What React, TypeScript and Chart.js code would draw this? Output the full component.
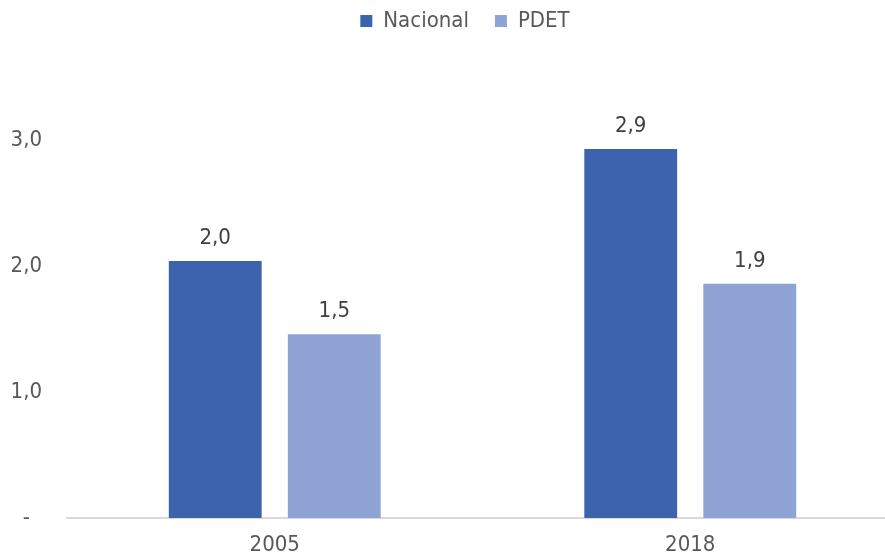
import { useEffect, useRef } from "react";
import { Chart, registerables } from "chart.js";

Chart.register(...registerables);

const categories = ["2005", "2018"];
const seriesNames = ["Nacional", "PDET"];
const nacional = [2.04, 2.93];
const pdet = [1.46, 1.86];
const yTickValues = [0, 1, 2, 3];
const colors = ["#3C64AC", "#8FA3D4"];

const FONT = "'Liberation Sans Narrow', 'Arial Narrow', 'DejaVu Sans Condensed', sans-serif";
const fmt = (v: number) => (v === 0 ? "-" : v.toFixed(1).replace(".", ","));

const labelPlugin = {
  id: "barLabels",
  afterLayout(chart: any) {
    if (chart.legend) {
      chart.legend.left += 16;
      chart.legend.right += 16;
    }
  },
  afterDatasetsDraw(chart: any) {
    const ctx = chart.ctx;
    ctx.save();
    ctx.font = `22px ${FONT}`;
    ctx.fillStyle = "#404040";
    ctx.textAlign = "center";
    ctx.textBaseline = "alphabetic";
    chart.data.datasets.forEach((ds: any, i: number) => {
      const meta = chart.getDatasetMeta(i);
      meta.data.forEach((bar: any, j: number) => {
        ctx.fillText(fmt(ds.data[j]), bar.x, bar.y - 17);
      });
    });
    ctx.restore();
  },
};

export default function App() {
  const ref = useRef<HTMLCanvasElement>(null);
  useEffect(() => {
    if (!ref.current) return;
    const chart = new Chart(ref.current, {
      type: "bar",
      data: {
        labels: categories,
        datasets: [
          { label: seriesNames[0], data: nacional, backgroundColor: colors[0] },
          { label: seriesNames[1], data: pdet, backgroundColor: colors[1] },
        ],
      },
      options: {
        responsive: false,
        animation: false,
        layout: { padding: { top: -16, right: 1, left: 0, bottom: 0 } },
        datasets: { bar: { categoryPercentage: 0.573, barPercentage: 0.78 } },
        plugins: {
          legend: {
            position: "top",
            labels: {
              boxWidth: 12,
              boxHeight: 12,
              padding: 26,
              color: "#595959",
              font: { size: 22, family: FONT },
            },
          },
          tooltip: { enabled: false },
        },
        scales: {
          x: {
            afterFit: (s: any) => { s.height = 40; },
            grid: { display: false, drawTicks: false },
            border: { display: true, color: "#D9D9D9", width: 2 },
            ticks: { color: "#595959", font: { size: 22, family: FONT }, padding: 14 },
          },
          y: {
            min: 0,
            max: 3.78,
            afterFit: (s: any) => { s.width = 67; },
            afterBuildTicks: (s: any) => { s.ticks = yTickValues.map((v) => ({ value: v })); },
            grid: { display: false, drawTicks: false },
            border: { display: false },
            ticks: {
              crossAlign: "center",
              padding: 25,
              color: "#595959",
              font: { size: 22, family: FONT },
              callback: (v: any) => fmt(Number(v)),
            },
          },
        },
      },
      plugins: [labelPlugin],
    });
    return () => chart.destroy();
  }, []);
  return (
    <div style={{ position: "fixed", left: 0, top: 0, width: 885, height: 558, overflow: "hidden", background: "#fff" }}>
      <canvas ref={ref} width={899} height={558} style={{ display: "block" }} />
    </div>
  );
}
